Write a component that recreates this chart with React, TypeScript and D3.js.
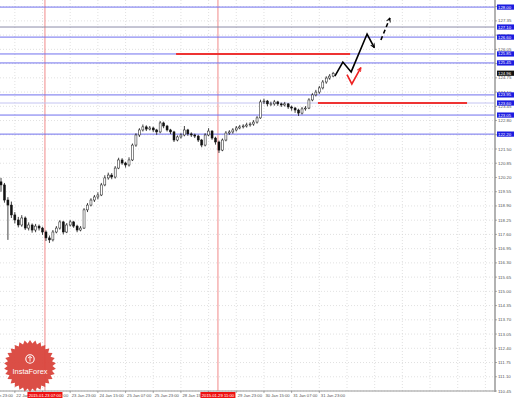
import React from 'react';
import * as d3 from 'd3';

const W = 518;
const H = 399;

const opens = [120.00,119.86,119.17,118.94,118.49,118.26,118.03,118.35,117.89,118.03,117.80,117.98,117.89,117.71,117.44,117.35,117.71,117.89,118.17,117.71,118.03,118.17,117.98,117.80,117.89,118.72,118.94,119.17,119.31,119.40,119.86,120.18,120.31,120.22,120.63,121.00,120.86,120.77,121.00,121.68,122.14,122.37,122.51,122.41,122.46,122.37,122.28,122.69,122.55,122.37,122.28,121.91,122.05,122.14,122.37,122.19,122.14,122.09,121.91,121.68,122.14,122.32,122.00,121.82,121.45,121.91,122.23,122.28,122.37,122.46,122.51,122.55,122.60,122.64,122.73,122.92,123.65,123.69,123.56,123.56,123.65,123.56,123.51,123.56,123.42,123.37,123.28,123.14,123.33,123.37,123.74,123.97,124.10,124.29,124.56,124.74,124.83];
const closes = [119.86,119.17,118.94,118.49,118.26,118.03,118.35,117.89,118.03,117.80,117.98,117.89,117.71,117.44,117.35,117.71,117.89,118.17,117.71,118.03,118.17,117.98,117.80,117.89,118.72,118.94,119.17,119.31,119.40,119.86,120.18,120.31,120.22,120.63,121.00,120.86,120.77,121.00,121.68,122.14,122.37,122.51,122.41,122.46,122.37,122.28,122.69,122.55,122.37,122.28,121.91,122.05,122.14,122.37,122.19,122.14,122.09,121.91,121.68,122.14,122.32,122.00,121.82,121.45,121.91,122.23,122.28,122.37,122.46,122.51,122.55,122.60,122.64,122.73,122.92,123.65,123.69,123.56,123.56,123.65,123.56,123.51,123.56,123.42,123.37,123.28,123.14,123.33,123.37,123.74,123.97,124.10,124.29,124.56,124.74,124.83,124.96];
const highs = [120.18,119.95,119.30,119.10,118.62,118.40,118.48,118.42,118.15,118.10,118.08,118.05,117.95,117.78,117.55,117.80,117.98,118.25,118.22,118.12,118.26,118.22,118.04,117.98,118.80,119.03,119.25,119.40,119.52,119.95,120.30,120.42,120.40,120.72,121.10,121.08,120.92,121.12,121.75,122.22,122.45,122.62,122.58,122.55,122.52,122.42,122.78,122.75,122.60,122.42,122.33,122.12,122.22,122.55,122.42,122.26,122.20,122.15,121.96,122.22,122.45,122.36,122.06,121.88,121.98,122.32,122.36,122.45,122.55,122.60,122.63,122.70,122.72,122.82,123.00,123.75,123.80,123.74,123.66,123.74,123.70,123.62,123.65,123.60,123.48,123.42,123.34,123.42,123.46,123.82,124.05,124.20,124.38,124.65,124.82,124.92,125.02];
const lows = [119.55,119.05,117.35,118.35,118.10,117.92,117.95,117.80,117.78,117.68,117.70,117.78,117.58,117.30,117.21,117.28,117.65,117.82,117.60,117.66,117.96,117.90,117.70,117.74,117.85,118.62,118.88,119.08,119.20,119.35,119.80,120.10,120.12,120.15,120.58,120.78,120.65,120.70,120.95,121.60,122.05,122.30,122.32,122.35,122.28,122.15,122.22,122.45,122.30,122.18,121.82,121.85,121.98,122.08,122.10,122.05,122.00,121.82,121.58,121.62,122.08,121.92,121.70,121.32,121.40,121.85,122.15,122.20,122.30,122.40,122.44,122.48,122.52,122.56,122.66,122.88,123.55,123.45,123.46,123.48,123.47,123.42,123.44,123.33,123.25,123.15,123.01,123.08,123.25,123.32,123.68,123.90,124.02,124.22,124.48,124.66,124.78];

const priceTicks = [110.45,111.10,111.75,112.40,113.05,113.70,114.35,115.00,115.65,116.30,116.95,117.60,118.25,118.90,119.55,120.20,120.85,121.50,122.15,122.80,123.45,124.10,124.75,125.40,126.05,126.70,127.35,128.00];
const timeLabels = ['21 Jan 23:00','22 Jan 15:00','23 Jan 07:00','23 Jan 23:00','24 Jan 15:00','25 Jan 07:00','25 Jan 23:00','28 Jan 15:00','29 Jan 07:00','29 Jan 23:00','30 Jan 15:00','31 Jan 07:00','31 Jan 23:00'];
const timeLabelBars = [-4,4,12,20,28,36,44,52,60,68,76,84,92];
const gridBars = [-4,4,12,20,28,36,44,52,60,68,76,84,92,100,108,116,124,132,140];

const levels = [127.98,127.07,126.61,125.84,125.43,123.97,123.60,123.05,122.18];
const levelLabels = ['128.00','127.10','126.60','125.85','125.45','123.95','123.60','123.05','122.20'];
const levelKinds = ['blue','gray','blue','blue','blue','blue','light','blue','blue'];
const currentPrice = 124.96;

const vlineBars = [12.7, 62.7];
const vlineLabels = ['2015.01.23 07:00','2015.01.29 11:00'];

const redLevels = [125.84, 123.60];
const redFrom = [50.6, 91.6];
const redTo = [100.9, 134.7];

const zigBars = [96.5, 98.8, 101.2, 105.8, 107.9];
const zigPrices = [124.83, 125.47, 125.02, 126.75, 126.13];
const dashBars = [109.8, 112.4];
const dashPrices = [126.48, 127.48];
const altBars = [100.0, 101.4, 104.0];
const altPrices = [124.90, 124.47, 125.22];

const PLOT_R = 495;
const PLOT_B = 391;

export default function App() {
  const x = d3.scaleLinear().domain([0, 143]).range([1, 1 + 143 * 3.46]);
  const y = d3.scaleLinear().domain([110.45, 128.0]).range([PLOT_B, PLOT_B - 17.55 * 21.9]);
  const line = d3.line<[number, number]>().x(d => x(d[0])).y(d => y(d[1]));

  const zig = zigBars.map((b, i) => [b, zigPrices[i]] as [number, number]);
  const dash = dashBars.map((b, i) => [b, dashPrices[i]] as [number, number]);
  const alt = altBars.map((b, i) => [b, altPrices[i]] as [number, number]);

  const levelColor = (k: string) => k === 'gray' ? '#8c8ca8' : k === 'light' ? '#c4c4f2' : '#7070ee';

  const cx = 30, cy = 366, rO = 26, rI = 22.5, n = 30;
  const star = d3.range(n * 2).map(k => {
    const a = (k / (n * 2)) * Math.PI * 2;
    const r = k % 2 === 0 ? rO : rI;
    return [cx + r * Math.sin(a), cy - r * Math.cos(a)] as [number, number];
  });
  const starPath = d3.line<[number, number]>().curve(d3.curveLinearClosed)(star) || '';

  const font = 'Liberation Sans, Arial, sans-serif';
  const narrow = 'Liberation Sans Narrow, Liberation Sans, Arial, sans-serif';

  return (
    <svg width={W} height={H} style={{ position: 'fixed', left: 0, top: 0, background: '#fff' }} xmlns="http://www.w3.org/2000/svg">
      <defs>
        <marker id="arrB" viewBox="0 0 10 10" refX="9" refY="5" markerWidth="5" markerHeight="5" orient="auto" markerUnits="userSpaceOnUse">
          <path d="M1,1 L9,5 L1,9" fill="none" stroke="#000" strokeWidth={1.8} />
        </marker>
        <marker id="arrR" viewBox="0 0 10 10" refX="9" refY="5" markerWidth="5" markerHeight="5" orient="auto" markerUnits="userSpaceOnUse">
          <path d="M1,1 L9,5 L1,9" fill="none" stroke="#ee2222" strokeWidth={1.8} />
        </marker>
      </defs>
      <rect x={0} y={0} width={W} height={H} fill="#fff" />
      {priceTicks.map((p, i) => (
        <line key={'hg' + i} x1={0} x2={PLOT_R} y1={y(p)} y2={y(p)} stroke="#d4d4d4" strokeWidth={0.7} strokeDasharray="1,2" />
      ))}
      {gridBars.map((b, i) => (
        <line key={'vg' + i} x1={x(b)} x2={x(b)} y1={0} y2={PLOT_B} stroke="#d4d4d4" strokeWidth={0.7} strokeDasharray="1,2" />
      ))}
      {vlineBars.map((b, i) => (
        <line key={'vl' + i} x1={x(b)} x2={x(b)} y1={0} y2={PLOT_B} stroke="#f08a8a" strokeWidth={1} />
      ))}
      {levels.map((p, i) => (
        <line key={'lv' + i} x1={0} x2={PLOT_R} y1={y(p)} y2={y(p)} stroke={levelColor(levelKinds[i])} strokeWidth={1} />
      ))}
      {redLevels.map((p, i) => (
        <line key={'rl' + i} x1={x(redFrom[i])} x2={x(redTo[i])} y1={y(p)} y2={y(p)} stroke="#ee3333" strokeWidth={2} />
      ))}
      {closes.map((c, i) => {
        const o = opens[i];
        const up = c >= o;
        const xc = x(i);
        const top = y(Math.max(o, c));
        const bot = y(Math.min(o, c));
        return (
          <g key={'c' + i}>
            <line x1={xc} x2={xc} y1={y(highs[i])} y2={y(lows[i])} stroke="#111" strokeWidth={0.8} />
            <rect x={xc - 1} y={top} width={2} height={Math.max(0.6, bot - top)} fill={up ? '#fff' : '#111'} stroke="#111" strokeWidth={0.5} />
          </g>
        );
      })}
      <path d={line(zig) || ''} fill="none" stroke="#000" strokeWidth={1.6} markerEnd="url(#arrB)" />
      <path d={line(dash) || ''} fill="none" stroke="#000" strokeWidth={1.6} strokeDasharray="4,3" markerEnd="url(#arrB)" />
      <path d={line(alt) || ''} fill="none" stroke="#ee2222" strokeWidth={1.6} markerEnd="url(#arrR)" />

      <line x1={PLOT_R} x2={PLOT_R} y1={0} y2={PLOT_B + 1} stroke="#999" strokeWidth={1.5} />
      <line x1={0} x2={PLOT_R} y1={PLOT_B} y2={PLOT_B} stroke="#999" strokeWidth={1.2} />
      {priceTicks.map((p, i) => (
        <g key={'pt' + i}>
          <line x1={PLOT_R} x2={PLOT_R + 2} y1={y(p)} y2={y(p)} stroke="#777" strokeWidth={0.6} />
          <text x={PLOT_R + 3} y={y(p)} dy="0.35em" fontSize={4.4} fontFamily={font} fill="#555">{p.toFixed(2)}</text>
        </g>
      ))}
      {levels.map((p, i) => (
        <g key={'lb' + i}>
          <rect x={PLOT_R + 2} y={y(p) - 2.6} width={17} height={5.2} fill="#1c1ce0" />
          <text x={PLOT_R + 3} y={y(p)} dy="0.35em" fontSize={4.3} fontFamily={font} fill="#fff">{levelLabels[i]}</text>
        </g>
      ))}
      <rect x={PLOT_R + 2} y={y(currentPrice) - 2.6} width={17} height={5.2} fill="#111" />
      <text x={PLOT_R + 3} y={y(currentPrice)} dy="0.35em" fontSize={4.3} fontFamily={font} fill="#fff">{currentPrice.toFixed(2)}</text>

      {timeLabelBars.map((b, i) => (
        <g key={'tl' + i}>
          <line x1={x(b)} x2={x(b)} y1={PLOT_B} y2={PLOT_B + 2} stroke="#777" strokeWidth={0.6} />
          <text x={x(b) + 1.5} y={PLOT_B + 5.5} fontSize={4.2} fontFamily={narrow} fill="#555">{timeLabels[i]}</text>
        </g>
      ))}
      {vlineBars.map((b, i) => (
        <g key={'vb' + i}>
          <rect x={x(b) - 17.5} y={PLOT_B + 1} width={35} height={6} fill="#ee1111" />
          <text x={x(b)} y={PLOT_B + 5.5} textAnchor="middle" fontSize={4.2} fontFamily={narrow} fill="#fff">{vlineLabels[i]}</text>
        </g>
      ))}

      <path d={starPath} fill="#d9443c" opacity={0.95} />
      <circle cx={cx} cy={cy - 7} r={4.2} fill="none" stroke="#fff" strokeWidth={1.1} />
      <path d={`M${cx - 2},${cy - 8} L${cx},${cy - 9.5} L${cx + 2},${cy - 8} M${cx},${cy - 9.5} L${cx},${cy - 4.5}`} stroke="#fff" strokeWidth={0.9} fill="none" />
      <text x={cx} y={cy + 8} textAnchor="middle" fontSize={7.4} fontFamily="Liberation Sans, Arial, sans-serif" fill="#fff">InstaForex</text>
    </svg>
  );
}
